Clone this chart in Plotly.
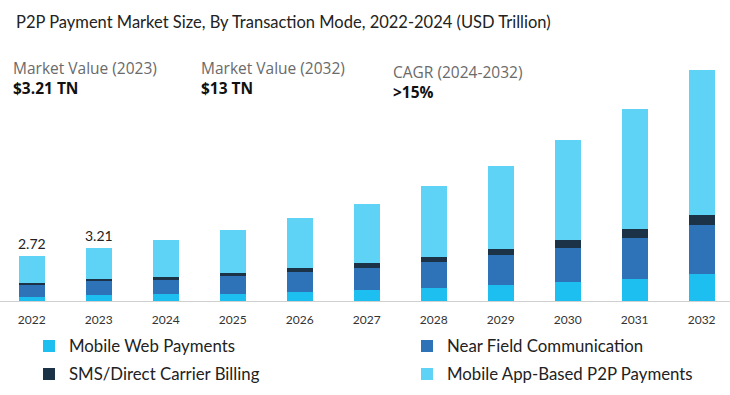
import plotly.graph_objects as go

years = [2022, 2023, 2024, 2025, 2026, 2027, 2028, 2029, 2030, 2031, 2032]
mobile_web = [0.24, 0.36, 0.40, 0.44, 0.57, 0.65, 0.79, 0.95, 1.15, 1.35, 1.65]
nfc = [0.73, 0.85, 0.88, 1.07, 1.17, 1.35, 1.55, 1.81, 2.08, 2.48, 2.92]
sms = [0.14, 0.12, 0.20, 0.18, 0.24, 0.28, 0.32, 0.40, 0.44, 0.54, 0.60]
app = [1.61, 1.88, 2.21, 2.58, 3.02, 3.61, 4.29, 5.02, 6.04, 7.25, 8.76]
labelled_years = [2022, 2023]
labelled_values = ["2.72", "3.21"]

series = [
    ("Mobile Web Payments", mobile_web, "#1cbff0", "legend"),
    ("Near Field Communication", nfc, "#2e72b8", "legend2"),
    ("SMS/Direct Carrier Billing", sms, "#1c3246", "legend3"),
    ("Mobile App-Based P2P Payments", app, "#5fd3f5", "legend4"),
]

W, H = 730, 395
T, B = 60, 94
PH = H - T - B          # plot height in px
BASE = H - B            # baseline y px


def py(ypx):
    return (BASE - ypx) / PH


fig = go.Figure()
for name, vals, col, lg in series:
    fig.add_trace(go.Bar(x=years, y=vals, name=name, marker_color=col,
                         marker_line_width=0, width=0.39, legend=lg,
                         hoverinfo="skip"))

totals = [a + b + c + d for a, b, c, d in zip(mobile_web, nfc, sms, app)]
for yr, lab in zip(labelled_years, labelled_values):
    i = years.index(yr)
    fig.add_annotation(x=yr, y=totals[i], text=lab, showarrow=False,
                       yanchor="bottom", yshift=2,
                       font=dict(family="Lato", size=14, color="#222"))

# header texts
hdr = [
    (12, "Market Value (2023)", "$3.21 TN", 68, 88),
    (200, "Market Value (2032)", "$13 TN", 68, 88),
    (392, "CAGR (2024-2032)", ">15%", 72, 92),
]
for xpx, lab, val, y1, y2 in hdr:
    fig.add_annotation(xref="paper", yref="paper", x=xpx / W, y=py(y1),
                       text=lab, showarrow=False, xanchor="left", yanchor="middle",
                       borderpad=0,
                       font=dict(family="Open Sans", size=15.5, color="#6a6a6a"))
    fig.add_annotation(xref="paper", yref="paper", x=xpx / W, y=py(y2),
                       text="<b>" + val + "</b>", showarrow=False, xanchor="left", yanchor="middle",
                       borderpad=0,
                       font=dict(family="Open Sans", size=15.5, color="#111"))

leg_font = dict(family="Lato", size=16.8, color="#222")
legpos = {"legend": (29, 346), "legend2": (407, 346), "legend3": (29, 374), "legend4": (407, 374)}
leg_layout = {}
for k, (lx, ly) in legpos.items():
    leg_layout[k] = dict(x=lx / W, xanchor="left", y=py(ly), yanchor="middle",
                         font=leg_font, bgcolor="rgba(0,0,0,0)")

fig.update_layout(
    width=W, height=H,
    margin=dict(l=0, r=0, t=T, b=B, autoexpand=False),
    barmode="stack",
    paper_bgcolor="white", plot_bgcolor="white",
    hovermode=False,
    title=dict(text="P2P Payment Market Size, By Transaction Mode, 2022-2024 (USD Trillion)",
               x=16 / W, xanchor="left", y=1 - 22 / H, yanchor="middle",
               font=dict(family="Lato", size=16.5, color="#222")),
    xaxis=dict(range=[2021.527, 2032.423], tickvals=years, ticktext=[str(y) for y in years],
               showgrid=False, zeroline=False, showline=True, linecolor="#d0d0d0", linewidth=1,
               ticks="", ticklabelstandoff=8, fixedrange=True,
               tickfont=dict(family="Lato", size=12, color="#333")),
    yaxis=dict(range=[0, PH / 16.55], visible=False, fixedrange=True),
    showlegend=True,
    **leg_layout,
)

fig.write_html("out.html", config={"displayModeBar": False},
               post_script="document.body.style.margin='0';")
